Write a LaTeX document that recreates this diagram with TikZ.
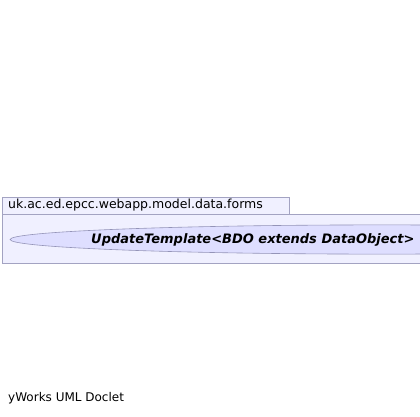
\documentclass[tikz,border=0pt]{standalone}
\usepackage{fontspec}
\setmainfont{DejaVu Sans}
\begin{document}
\begin{tikzpicture}[x=1pt,y=-1pt,
  pkgbox/.style={draw=gray!80!blue!60, fill=blue!6, line width=0.8pt},
  clsell/.style={draw=gray!80!blue!70, fill=blue!13, line width=0.6pt},
  lbl/.style={inner sep=0pt, anchor=west, font=\fontsize{12.5}{14}\selectfont}]
\useasboundingbox (0,0) rectangle (420,416);
\clip (0,0) rectangle (420,416);
\draw[pkgbox] (2,214) rectangle (430,263);
\draw[pkgbox] (2,197) rectangle (289,214);
\node[lbl] (pkg) at (8,205.5) {uk.ac.ed.epcc.webapp.model.data.forms};
\draw[clsell] (382,239.5) ellipse [x radius=372, y radius=14.6];
\node[inner sep=0pt, anchor=west, font=\fontsize{13}{15}\selectfont\bfseries\itshape] (cls) at (91,240) {UpdateTemplate<BDO extends DataObject>};
\node[lbl, font=\fontsize{12}{14}\selectfont] (foot) at (8,398) {yWorks UML Doclet};
\end{tikzpicture}
\end{document}
